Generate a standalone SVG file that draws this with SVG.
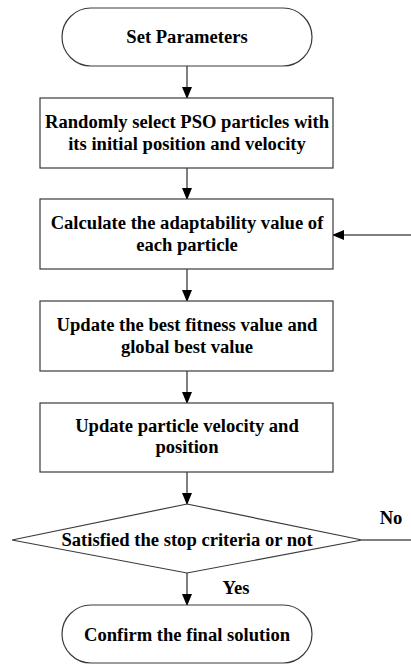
<svg xmlns="http://www.w3.org/2000/svg" width="411" height="664" viewBox="0 0 411 664">
<style>
.n{fill:#fff;stroke:#3a3a3a;stroke-width:1.2}
.c{fill:none;stroke:#555;stroke-width:1.5}
</style>
<defs>
<marker id="ah2" markerWidth="12" markerHeight="10" refX="11" refY="5" orient="auto" markerUnits="userSpaceOnUse"><path d="M0,0 L12,5 L0,10 Z" fill="#000"/></marker>
</defs>
<rect width="411" height="664" fill="#fff"/>
<g font-family="Liberation Serif, Times New Roman, serif" font-weight="bold" font-size="18.6" text-anchor="middle" fill="#000">
<g id="connectors">
<line class="c" x1="187" y1="66" x2="187" y2="98" marker-end="url(#ah2)"/>
<line class="c" x1="187" y1="168" x2="187" y2="199" marker-end="url(#ah2)"/>
<line class="c" x1="187" y1="269" x2="187" y2="301" marker-end="url(#ah2)"/>
<line class="c" x1="187" y1="371" x2="187" y2="403" marker-end="url(#ah2)"/>
<line class="c" x1="187" y1="472" x2="187" y2="504" marker-end="url(#ah2)"/>
<line class="c" x1="187" y1="573" x2="187" y2="605" marker-end="url(#ah2)"/>
<line class="c" x1="362" y1="540" x2="411" y2="540"/>
<line class="c" x1="411" y1="235" x2="333" y2="235" marker-end="url(#ah2)"/>
<text x="391" y="524">No</text>
<text x="236" y="594">Yes</text>
</g>
<g id="start">
<rect class="n" x="62" y="8" width="250" height="58" rx="29" ry="29"/>
<text x="187" y="43">Set Parameters</text>
</g>
<g id="init">
<rect class="n" x="40" y="98" width="293" height="70"/>
<text x="187" y="128">Randomly select PSO particles with</text>
<text x="187" y="150">its initial position and velocity</text>
</g>
<g id="calc">
<rect class="n" x="40" y="199" width="293" height="70"/>
<text x="187" y="229">Calculate the adaptability value of</text>
<text x="187" y="251">each particle</text>
</g>
<g id="best">
<rect class="n" x="40" y="301" width="293" height="70"/>
<text x="187" y="331">Update the best fitness value and</text>
<text x="187" y="353">global best value</text>
</g>
<g id="update">
<rect class="n" x="40" y="403" width="293" height="69"/>
<text x="187" y="432">Update particle velocity and</text>
<text x="187" y="453">position</text>
</g>
<g id="decision">
<polygon class="n" points="187,504 362,540 187,573 12,540"/>
<text x="187" y="546">Satisfied the stop criteria or not</text>
</g>
<g id="end">
<rect class="n" x="62" y="605" width="250" height="58" rx="29" ry="29"/>
<text x="187" y="641">Confirm the final solution</text>
</g>
</g>
</svg>
